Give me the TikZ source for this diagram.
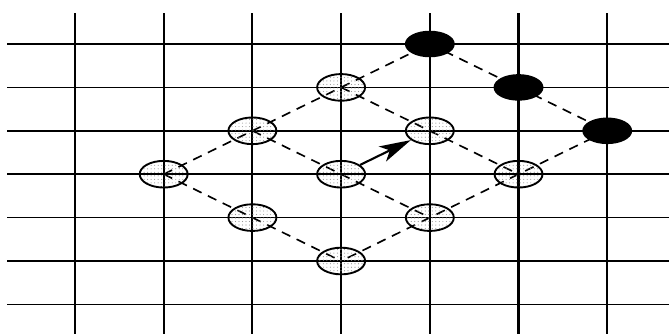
\documentclass[tikz,border=0pt]{standalone}
\usetikzlibrary{shapes.geometric,patterns,arrows.meta,backgrounds}
\tikzset{
	vline/.style    = {line width = 1.8pt},
	hline/.style    = {line width = 1.3pt},
	site/.style     = {
		shape          = ellipse,
		draw,
		line width     = 1.6pt,
		minimum width  = 1.44cm,
		minimum height = 0.8cm,
		inner sep      = 0pt,
		pattern        = dots,
		pattern color  = gray!80
	},
	occupied/.style = {site, pattern = none, fill = black, minimum height = 0.74cm},
	link/.style     = {line width = 1.4pt, dash pattern = on 8pt off 6pt},
	jump/.style     = {line width = 1.8pt, -{Stealth[length=0.95cm, width=0.5cm, inset=0.25cm]}}
}

\begin{document}
\begin{tikzpicture}[x = 0.03cm, y = -0.03cm]
	\useasboundingbox (0,0) rectangle (669,334);
	% lattice lines
	\foreach \c in {0,...,6}
		\draw[vline] ({75+88.7*\c},13) -- ({75+88.7*\c},334);
	\foreach \r in {0,...,6}
		\draw[hline] (7,{44+43.4*\r}) -- (669,{44+43.4*\r});
	\begin{scope}[shift = {(75,44)}, x = 2.661cm, y = -1.302cm]
		% gray sites
		\node(g1) [site] at (1,3) {};
		\node(g2) [site] at (2,2) {};
		\node(g3) [site] at (3,1) {};
		\node(g4) [site] at (2,4) {};
		\node(g5) [site] at (3,3) {};
		\node(g6) [site] at (4,2) {};
		\node(g7) [site] at (3,5) {};
		\node(g8) [site] at (4,4) {};
		\node(g9) [site] at (5,3) {};
		% black sites
		\node(b1) [occupied] at (4,0) {};
		\node(b2) [occupied] at (5,1) {};
		\node(b3) [occupied] at (6,2) {};
	\end{scope}
	\begin{scope}[on background layer]
		\foreach \u/\v in {g1/g2, g2/g3, g3/b1, b1/b2, b2/b3, g3/g6, g1/g4, g4/g7,
			g2/g5, g5/g8, g6/g9, b3/g9, g9/g8, g8/g7}
			\draw[link] (\u.center) -- (\v.center);
	\end{scope}
	\draw[jump] (g5) -- (g6);
\end{tikzpicture}
\end{document}
